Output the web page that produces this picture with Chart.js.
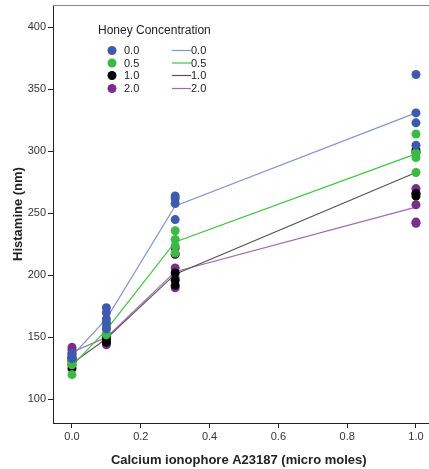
<!DOCTYPE html>
<html>
<head>
<meta charset="utf-8">
<script src="https://cdn.jsdelivr.net/npm/chart.js@4.4.1/dist/chart.umd.min.js"></script>
<style>
  html, body { margin: 0; padding: 0; background: #fff; }
  #wrap { width: 429px; height: 469px; }
</style>
</head>
<body>
<div id="wrap"><canvas id="histChart" width="429" height="469"></canvas></div>
<script>
// doses on the x axis
const doses = [0.0, 0.1, 0.3, 1.0];
const xTicks = [0.0, 0.2, 0.4, 0.6, 0.8, 1.0];
const yTicks = [100, 150, 200, 250, 300, 350, 400];
const groups = ['0.0', '0.5', '1.0', '2.0'];

// observed points, one inner list per dose
const obs00 = [[137, 135, 133], [174, 170, 165, 162, 157], [264, 262, 258, 245], [362, 331, 323, 305]];
const obs05 = [[132, 130, 128, 120], [160, 157, 153, 152], [236, 229, 224, 218], [314, 299, 295, 283]];
const obs10 = [[133, 131, 128, 125], [152, 150, 148, 146], [217, 202, 196, 192], [301, 299, 266, 264]];
const obs20 = [[142, 140, 137, 134], [160, 152, 146, 144], [222, 206, 198, 190], [270, 266, 257, 243, 242]];

// mean lines
const mean00 = [135, 165, 256, 331];
const mean05 = [127, 156, 227, 298];
const mean10 = [129, 149, 201, 283];
const mean20 = [138, 150, 203, 255];

const dotColors = ['#3d5aae', '#3bbb43', '#000000', '#7b2d8b'];
const lineColors = ['#8196d1', '#3ac93a', '#555555', '#a565b5'];

const ctx = document.getElementById('histChart');

function toPoints(obs) {
    return doses.flatMap((d, i) => obs[i].map(v => ({ x: d, y: v })));
}
function toLine(mean) {
    return doses.map((d, i) => ({ x: d, y: mean[i] }));
}

const allObs = [obs00, obs05, obs10, obs20];
const allMeans = [mean00, mean05, mean10, mean20];

const datasets = [];
allMeans.forEach((m, g) => {
    datasets.push({
        label: 'line ' + groups[g],
        data: toLine(m),
        showLine: true,
        borderColor: lineColors[g],
        borderWidth: 1.2,
        pointRadius: 0,
        order: 2
    });
});
allObs.forEach((o, g) => {
    datasets.push({
        label: 'dot ' + groups[g],
        data: toPoints(o),
        backgroundColor: dotColors[g],
        borderWidth: 0,
        pointRadius: 4.5,
        order: 1
    });
});

// frame lines running to the right edge + custom two column legend
const framePlugin = {
    id: 'frame',
    afterDraw(chart) {
        const c = chart.ctx;
        const a = chart.chartArea;
        c.save();
        c.strokeStyle = '#888';
        c.lineWidth = 1;
        c.beginPath();
        c.moveTo(a.left, a.top + 0.5);
        c.lineTo(chart.width, a.top + 0.5);
        c.stroke();
        c.strokeStyle = '#222';
        c.beginPath();
        c.moveTo(a.right - 1, a.bottom + 0.5);
        c.lineTo(chart.width, a.bottom + 0.5);
        c.stroke();

        c.fillStyle = '#222';
        c.font = '12px "Liberation Sans", Arial, sans-serif';
        c.textBaseline = 'middle';
        c.textAlign = 'left';
        c.fillText('Honey Concentration', 98, 31);

        c.font = '11px "Liberation Sans", Arial, sans-serif';
        const rows = [50.5, 63, 75.5, 88.5];
        groups.forEach((g, i) => {
            c.fillStyle = dotColors[i];
            c.beginPath();
            c.arc(112, rows[i], 4.5, 0, Math.PI * 2);
            c.fill();
            c.fillStyle = '#222';
            c.fillText(g, 124, rows[i] + 0.5);

            c.strokeStyle = lineColors[i];
            c.lineWidth = 1.2;
            c.beginPath();
            c.moveTo(172, rows[i]);
            c.lineTo(191, rows[i]);
            c.stroke();
            c.fillStyle = '#222';
            c.fillText(g, 191, rows[i] + 0.5);
        });
        c.restore();
    }
};

new Chart(ctx, {
    type: 'scatter',
    data: { datasets: datasets },
    options: {
        responsive: false,
        animation: false,
        layout: { padding: { top: 5, right: 0, left: 0, bottom: 0 } },
        plugins: {
            legend: { display: false },
            tooltip: { enabled: false }
        },
        scales: {
            x: {
                type: 'linear',
                min: -0.0552,
                max: 1.0248,
                afterBuildTicks: s => { s.ticks = xTicks.map(v => ({ value: v })); },
                afterFit: s => { s.height = 46; },
                border: { display: true, color: '#222', width: 1 },
                grid: { drawOnChartArea: false, drawTicks: true, tickLength: 5, color: '#222' },
                ticks: {
                    padding: 2,
                    color: '#333',
                    font: { size: 11, family: '"Liberation Sans", Arial, sans-serif' },
                    callback: v => Number(v).toFixed(1)
                },
                title: {
                    display: true,
                    text: 'Calcium ionophore A23187 (micro moles)',
                    color: '#222',
                    padding: { top: 0, bottom: 1 },
                    font: { size: 13, weight: 'bold', family: '"Liberation Sans", Arial, sans-serif' }
                }
            },
            y: {
                type: 'linear',
                min: 81,
                max: 418,
                afterBuildTicks: s => { s.ticks = yTicks.map(v => ({ value: v })); },
                afterFit: s => { s.width = 53; s.paddingTop = 0; s.paddingBottom = 0; },
                border: { display: true, color: '#222', width: 1 },
                grid: { drawOnChartArea: false, drawTicks: true, tickLength: 5, color: '#222' },
                ticks: {
                    padding: 2,
                    color: '#333',
                    font: { size: 11, family: '"Liberation Sans", Arial, sans-serif' }
                },
                title: {
                    display: true,
                    text: 'Histamine (nm)',
                    color: '#222',
                    padding: { top: 11, bottom: 0 },
                    font: { size: 13, weight: 'bold', family: '"Liberation Sans", Arial, sans-serif' }
                }
            }
        }
    },
    plugins: [framePlugin]
});
</script>
</body>
</html>
